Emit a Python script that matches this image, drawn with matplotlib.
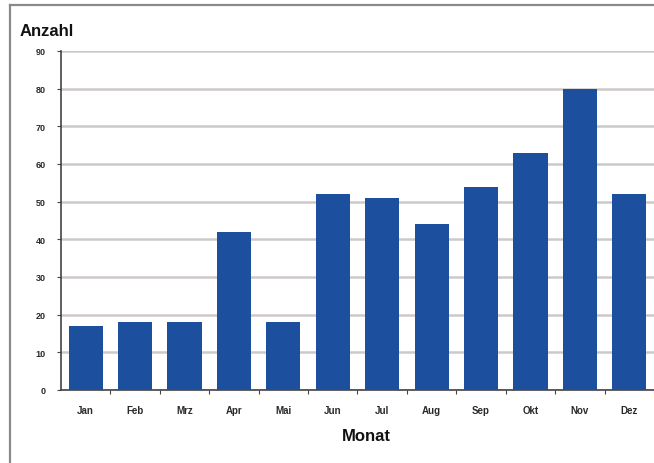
import matplotlib
matplotlib.use("Agg")
import matplotlib.pyplot as plt
from matplotlib.lines import Line2D

months = ["Jan", "Feb", "Mrz", "Apr", "Mai", "Jun", "Jul", "Aug", "Sep", "Okt", "Nov", "Dez"]
counts = [17, 18, 18, 42, 18, 52, 51, 44, 54, 63, 80, 52]
yticks = [0, 10, 20, 30, 40, 50, 60, 70, 80, 90]

plt.rcParams['font.family'] = ['Liberation Sans', 'DejaVu Sans']

W, H = 654, 464
fig = plt.figure(figsize=(W / 100, H / 100), dpi=100)
fig.patch.set_facecolor("white")

left = 61 / W
right = 1.0
bottom = 1 - 391 / H
top = 1 - 52 / H
ax = fig.add_axes([left, bottom, right - left, top - bottom])

x = list(range(len(months)))
ax.bar(x, counts, width=0.69, color="#1d4f9f", zorder=3)

ax.set_xlim(-0.5, len(months) - 0.5)
ax.set_ylim(0, 90)
ax.set_yticks(yticks)
ax.set_yticklabels([str(v) for v in yticks], fontsize=6.5, fontweight="bold", color="#2a2a2a")
ax.yaxis.grid(True, color="#cdc9c8", linewidth=1.8, zorder=0)
ax.set_axisbelow(True)

# category labels at centers, tick marks at boundaries
ax.set_xticks([i + 0.5 for i in x[:-1]] + [len(months) - 0.5])
ax.set_xticklabels([])
ax.set_xticks(x, minor=True)
ax.set_xticklabels(months, minor=True, fontsize=7, fontweight="bold", color="#2a2a2a")
ax.tick_params(axis="x", which="minor", length=0, pad=11)
ax.tick_params(axis="x", which="major", length=3, width=0.8, color="#444444", direction="out")
ax.tick_params(axis="y", length=3, width=0.8, color="#444444", direction="out", pad=8)

for s in ["top", "right"]:
    ax.spines[s].set_visible(False)
ax.spines["left"].set_color("#444444")
ax.spines["left"].set_linewidth(1.2)
ax.spines["bottom"].set_color("#444444")
ax.spines["bottom"].set_linewidth(1.2)

fig.text(20 / W, 1 - 32 / H, "Anzahl", fontsize=12, fontweight="bold",
         ha="left", va="center", color="#111111")
fig.text(366 / W, 1 - 437 / H, "Monat", fontsize=12, fontweight="bold",
         ha="center", va="center", color="#111111")

# outer frame (left and top visible)
fig.add_artist(Line2D([10 / W, 10 / W], [0, 1 - 6 / H], transform=fig.transFigure,
                      color="#8a8a8a", linewidth=1.6))
fig.add_artist(Line2D([10 / W, 1], [1 - 6 / H, 1 - 6 / H], transform=fig.transFigure,
                      color="#8a8a8a", linewidth=1.6))

fig.savefig("out.png", dpi=100, facecolor="white")
